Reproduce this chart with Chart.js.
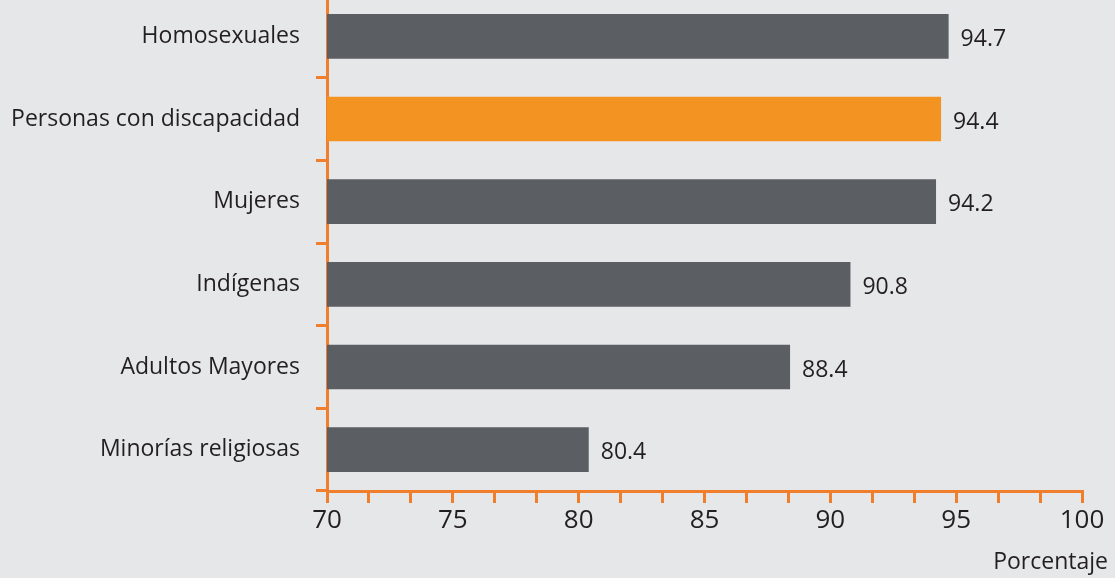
<!DOCTYPE html>
<html>
<head>
<meta charset="utf-8">
<script src="https://cdn.jsdelivr.net/npm/chart.js@4.4.0/dist/chart.umd.min.js"></script>
<style>
  html, body { margin: 0; padding: 0; background: #e6e7e8; overflow: hidden; }
  /* canvas is nudged up a little so the category bands line up with the original */
  #wrap { position: absolute; left: 0; top: -5px; width: 1115px; height: 583px; }
</style>
</head>
<body>
<div id="wrap"><canvas id="chart"></canvas></div>
<script>
// --- data -----------------------------------------------------------
var categories = ['Homosexuales', 'Personas con discapacidad', 'Mujeres', 'Indígenas', 'Adultos Mayores', 'Minorías religiosas'];
var values = [94.7, 94.4, 94.2, 90.8, 88.4, 80.4];
var highlighted = 'Personas con discapacidad';

var axisMin = 70;
var axisMax = 100;
var majorStep = 5;
var minorStep = 5 / 3;
var axisTitle = 'Porcentaje';

// --- styles ---------------------------------------------------------
var orange = '#ef7f2c';
var barGrey = '#5b5e63';
var barOrange = '#f39322';
var textColour = '#231f20';
var fontFamily = "'Open Sans', 'DejaVu Sans', sans-serif";

var barColours = categories.map(function (c) {
  return c === highlighted ? barOrange : barGrey;
});

// value labels at the end of each bar
var valueLabels = {
  id: 'valueLabels',
  afterDatasetsDraw: function (chart) {
    var ctx = chart.ctx;
    var meta = chart.getDatasetMeta(0);
    ctx.save();
    ctx.font = '23px ' + fontFamily;
    ctx.fillStyle = textColour;
    ctx.textAlign = 'left';
    ctx.textBaseline = 'middle';
    meta.data.forEach(function (bar, i) {
      ctx.fillText(values[i].toFixed(1), bar.x + 12, bar.y + 3);
    });
    ctx.restore();
  }
};

// axis title sits bottom-right, past the end of the axis
var axisTitlePlugin = {
  id: 'axisTitle',
  afterDraw: function (chart) {
    var ctx = chart.ctx;
    ctx.save();
    ctx.font = '23px ' + fontFamily;
    ctx.fillStyle = textColour;
    ctx.textAlign = 'right';
    ctx.textBaseline = 'middle';
    ctx.fillText(axisTitle, chart.width - 7, chart.height - 16);
    ctx.restore();
  }
};

new Chart(document.getElementById('chart'), {
  type: 'bar',
  data: {
    labels: categories,
    datasets: [{
      data: values,
      backgroundColor: barColours,
      borderWidth: 0,
      categoryPercentage: 1,
      barPercentage: 0.54
    }]
  },
  options: {
    indexAxis: 'y',
    responsive: true,
    maintainAspectRatio: false,
    animation: false,
    layout: { padding: { top: 0, right: 33, bottom: 0, left: 0 } },
    plugins: {
      legend: { display: false },
      tooltip: { enabled: false }
    },
    scales: {
      x: {
        type: 'linear',
        min: axisMin,
        max: axisMax,
        afterFit: function (scale) { scale.height = 87; },
        border: { display: true, color: orange, width: 3 },
        grid: {
          drawOnChartArea: false,
          drawTicks: true,
          tickLength: 12,
          color: orange,
          lineWidth: 3
        },
        ticks: {
          stepSize: minorStep,
          autoSkip: false,
          maxRotation: 0,
          padding: 2,
          color: textColour,
          font: { family: fontFamily, size: 26 },
          callback: function (v) {
            var r = Math.round(v / majorStep) * majorStep;
            return Math.abs(v - r) < 1e-6 ? String(r) : '';
          }
        }
      },
      y: {
        type: 'category',
        afterFit: function (scale) {
          scale.width = 327;
          // no extra room above/below for the label text
          scale.paddingTop = 0;
          scale.paddingBottom = 0;
        },
        border: { display: true, color: orange, width: 3 },
        grid: {
          offset: true,
          drawOnChartArea: false,
          drawTicks: true,
          tickLength: 11,
          color: orange,
          lineWidth: 3
        },
        ticks: {
          padding: 16,
          color: textColour,
          font: { family: fontFamily, size: 23 }
        }
      }
    }
  },
  plugins: [valueLabels, axisTitlePlugin]
});
</script>
</body>
</html>
